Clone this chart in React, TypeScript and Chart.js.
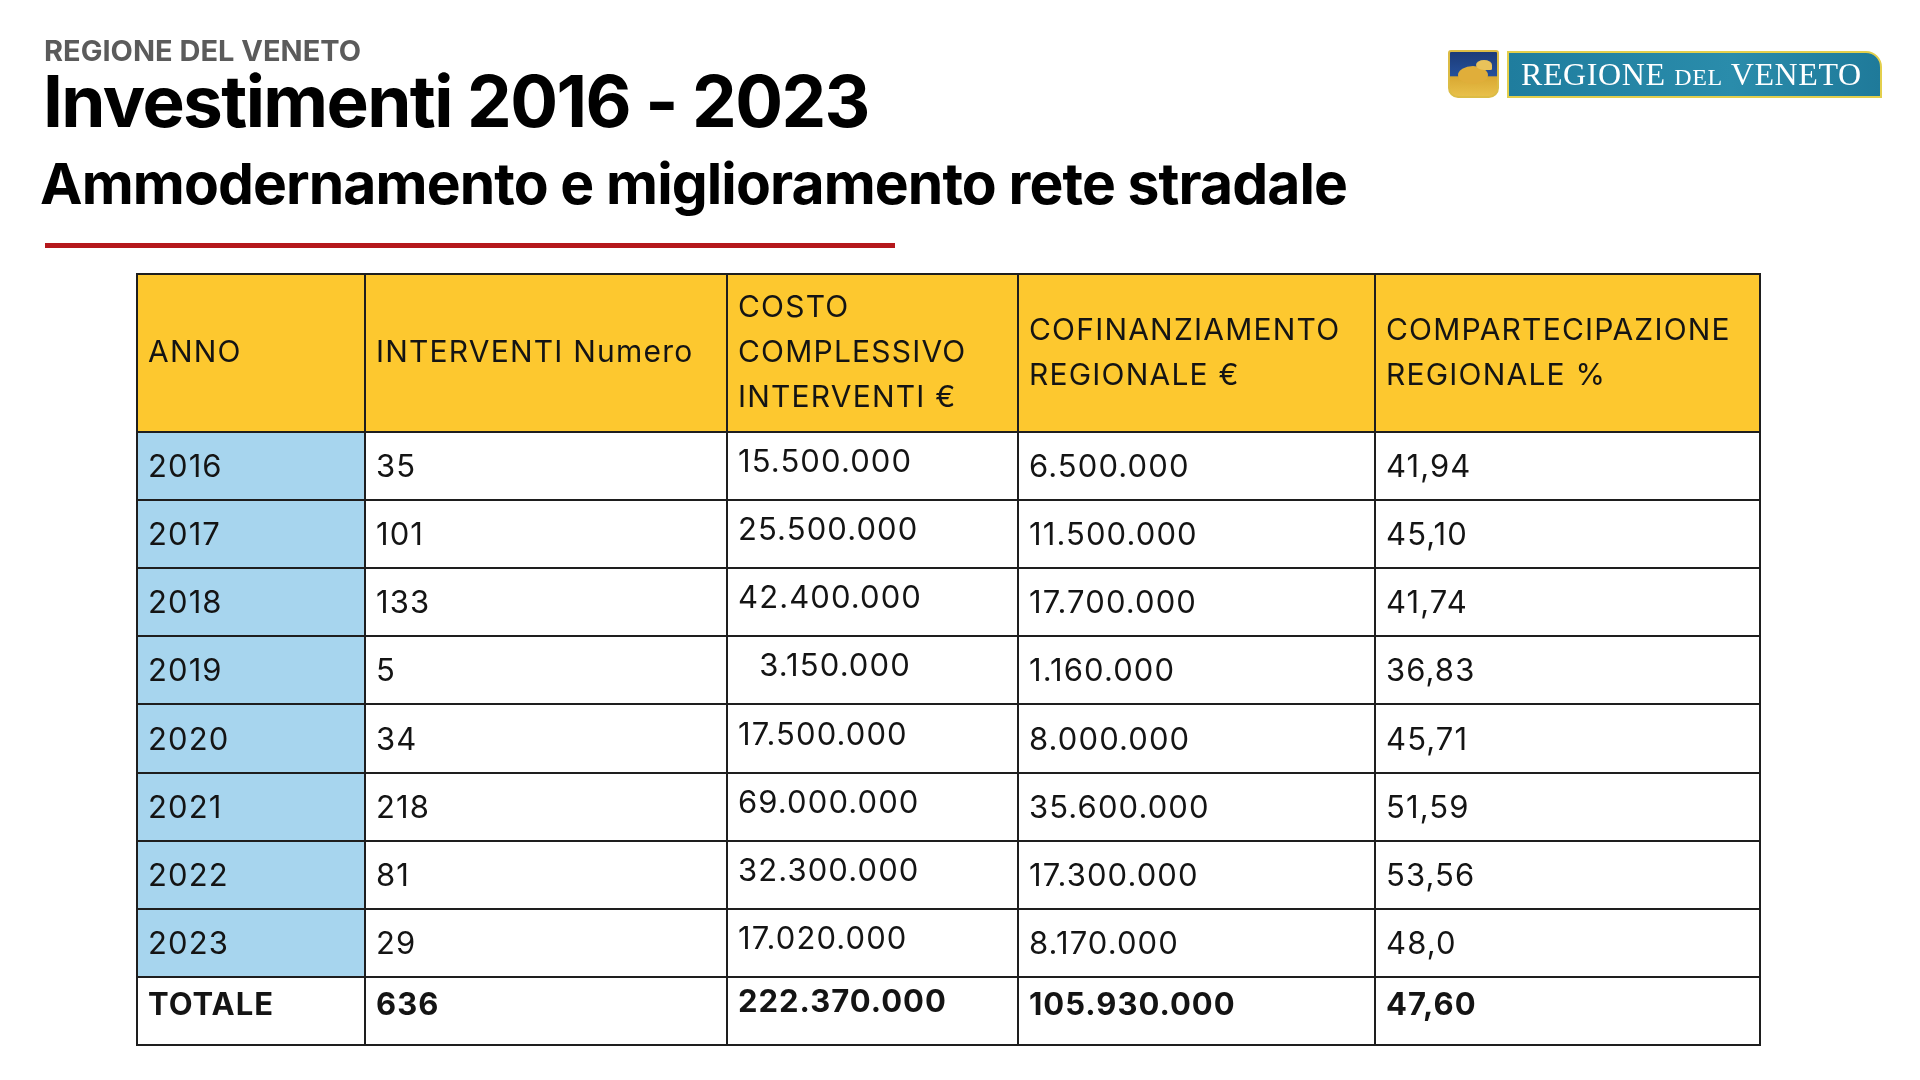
import React, { useEffect, useRef } from "react";
import { Chart, registerables } from "chart.js";

Chart.register(...registerables);

// ---------- DATA ----------
const HEADERS: string[][] = [
  ["ANNO"],
  ["INTERVENTI Numero"],
  ["COSTO", "COMPLESSIVO", "INTERVENTI €"],
  ["COFINANZIAMENTO", "REGIONALE €"],
  ["COMPARTECIPAZIONE", "REGIONALE %"],
];
const YEARS = ["2016", "2017", "2018", "2019", "2020", "2021", "2022", "2023"];
const INTERVENTI = [35, 101, 133, 5, 34, 218, 81, 29];
const COSTO = [15500000, 25500000, 42400000, 3150000, 17500000, 69000000, 32300000, 17020000];
const COFINANZIAMENTO = [6500000, 11500000, 17700000, 1160000, 8000000, 35600000, 17300000, 8170000];
const COMPARTECIPAZIONE = ["41,94", "45,10", "41,74", "36,83", "45,71", "51,59", "53,56", "48,0"];
const TOTAL_LABEL = "TOTALE";
const TOTAL_INTERVENTI = 636;
const TOTAL_COSTO = 222370000;
const TOTAL_COFINANZIAMENTO = 105930000;
const TOTAL_COMPARTECIPAZIONE = "47,60";

// ---------- LAYOUT ----------
const COL_EDGES = [0, 228, 590, 881, 1238, 1623]; // x-scale units
const HEADER_UNITS = 2.32; // header row height in row units
const N_BODY = YEARS.length + 1;
const Y_MAX = HEADER_UNITS + N_BODY;

const FONT = "Inter, 'Open Sans', sans-serif";
const YELLOW = "#fdc82f";
const BLUE = "#a7d5ee";
const LINE = "#1e1e1e";

const fmt = (n: number) => String(n).replace(/\B(?=(\d{3})+(?!\d))/g, ".");

function rowBounds(i: number): [number, number] {
  if (i === 0) return [0, HEADER_UNITS];
  const t = HEADER_UNITS + (i - 1);
  return [t, t + 1];
}

function buildRows(): { cells: string[]; bold: boolean }[] {
  const rows: { cells: string[]; bold: boolean }[] = [];
  YEARS.forEach((yr, i) => {
    rows.push({
      cells: [
        yr,
        String(INTERVENTI[i]),
        fmt(COSTO[i]).padStart(10, "\u2007"),
        fmt(COFINANZIAMENTO[i]),
        COMPARTECIPAZIONE[i],
      ],
      bold: false,
    });
  });
  rows.push({
    cells: [
      TOTAL_LABEL,
      String(TOTAL_INTERVENTI),
      fmt(TOTAL_COSTO),
      fmt(TOTAL_COFINANZIAMENTO),
      TOTAL_COMPARTECIPAZIONE,
    ],
    bold: true,
  });
  return rows;
}

const tablePlugin = {
  id: "tableCells",
  beforeDatasetsDraw(chart: any) {
    const { ctx } = chart;
    const xs = chart.scales.x;
    const ys = chart.scales.y;
    const px = (v: number) => Math.round(xs.getPixelForValue(v));
    const py = (v: number) => Math.round(ys.getPixelForValue(v));
    const rows = buildRows();
    const nCols = COL_EDGES.length - 1;

    ctx.save();
    // fills
    for (let r = 0; r <= N_BODY; r++) {
      const [t, b] = rowBounds(r);
      for (let c = 0; c < nCols; c++) {
        let fill = "#ffffff";
        if (r === 0) fill = YELLOW;
        else if (c === 0 && r <= YEARS.length) fill = BLUE;
        ctx.fillStyle = fill;
        ctx.fillRect(px(COL_EDGES[c]), py(t), px(COL_EDGES[c + 1]) - px(COL_EDGES[c]), py(b) - py(t));
      }
    }
    // grid lines
    ctx.strokeStyle = LINE;
    ctx.lineWidth = 2;
    const top = py(0);
    const bottom = py(Y_MAX);
    const left = px(COL_EDGES[0]);
    const right = px(COL_EDGES[nCols]);
    COL_EDGES.forEach((e) => {
      ctx.beginPath();
      ctx.moveTo(px(e), top - 1);
      ctx.lineTo(px(e), bottom + 1);
      ctx.stroke();
    });
    for (let r = 0; r <= N_BODY; r++) {
      const [t] = rowBounds(r);
      ctx.beginPath();
      ctx.moveTo(left, py(t));
      ctx.lineTo(right, py(t));
      ctx.stroke();
    }
    ctx.beginPath();
    ctx.moveTo(left, bottom);
    ctx.lineTo(right, bottom);
    ctx.stroke();

    // text
    ctx.fillStyle = "#141414";
    ctx.textAlign = "left";
    ctx.textBaseline = "alphabetic";
    const padX = 11;
    // header
    ctx.font = `400 30px ${FONT}`;
    (ctx as any).letterSpacing = "1.2px";
    const [ht, hb] = rowBounds(0);
    const hMid = (py(ht) + py(hb)) / 2 - 2;
    HEADERS.forEach((lines, c) => {
      const n = lines.length;
      lines.forEach((ln, k) => {
        const cy = hMid + (k - (n - 1) / 2) * 45;
        ctx.fillText(ln, px(COL_EDGES[c]) + padX, cy + 11);
      });
    });
    // body
    rows.forEach((row, i) => {
      const [t, b] = rowBounds(i + 1);
      const mid = (py(t) + py(b)) / 2;
      ctx.font = row.bold ? `700 31px ${FONT}` : `400 31px ${FONT}`;
      (ctx as any).letterSpacing = row.bold ? "1px" : "1.1px";
      row.cells.forEach((txt, c) => {
        let dy = 0;
        if (row.bold) dy = c === 2 ? -10 : -7;
        else if (c === 2) dy = -5;
        ctx.fillText(txt, px(COL_EDGES[c]) + padX, mid + 11 + dy);
      });
    });
    (ctx as any).letterSpacing = "0px";
    ctx.restore();
  },
};

const textStyle = (
  left: number,
  top: number,
  size: number,
  weight: number,
  color: string,
  extra: React.CSSProperties = {}
): React.CSSProperties => ({
  position: "absolute",
  left,
  top,
  fontFamily: FONT,
  fontSize: size,
  fontWeight: weight,
  color,
  lineHeight: 1,
  whiteSpace: "nowrap",
  margin: 0,
  ...extra,
});

export default function App() {
  const canvasRef = useRef<HTMLCanvasElement | null>(null);

  useEffect(() => {
    if (!canvasRef.current) return;
    const chart = new Chart(canvasRef.current, {
      type: "scatter",
      data: { datasets: [] },
      options: {
        responsive: false,
        animation: false,
        devicePixelRatio: 1,
        layout: { padding: { left: 137, top: 274, right: 160, bottom: 35 } },
        scales: {
          x: { type: "linear", min: COL_EDGES[0], max: COL_EDGES[COL_EDGES.length - 1], display: false },
          y: { type: "linear", min: 0, max: Y_MAX, reverse: true, display: false },
        },
        plugins: { legend: { display: false }, tooltip: { enabled: false } },
      },
      plugins: [tablePlugin],
    });
    return () => chart.destroy();
  }, []);

  return (
    <div style={{ position: "absolute", left: 0, top: 0, width: 1920, height: 1080, background: "#ffffff", overflow: "hidden" }}>
      <canvas ref={canvasRef} width={1920} height={1080} style={{ position: "absolute", left: 0, top: 0 }} />
      <div style={textStyle(44, 61 - 0.864 * 29, 29, 700, "#5b5b5b", { letterSpacing: 0 })}>REGIONE DEL VENETO</div>
      <div style={textStyle(43, 127 - 0.864 * 71, 71, 700, "#000000", { letterSpacing: -1.6 })}>Investimenti 2016 - 2023</div>
      <div style={textStyle(40, 204 - 0.864 * 57, 57, 700, "#000000", { letterSpacing: -0.9 })}>Ammodernamento e miglioramento rete stradale</div>
      <div style={{ position: "absolute", left: 45, top: 243, width: 850, height: 5, background: "#b5181c" }} />
      {/* logo */}
      <div style={{ position: "absolute", left: 1448, top: 50, width: 51, height: 48, boxSizing: "border-box", border: "2px solid #dcbc45", borderRadius: "3px 3px 10px 10px", background: "linear-gradient(#1c3b78 0%, #25509a 55%, #d9a832 56%, #e8c04a 100%)", overflow: "hidden" }}>
        <div style={{ position: "absolute", left: 8, top: 14, width: 30, height: 18, borderRadius: "50%", background: "#e0ae3a" }} />
        <div style={{ position: "absolute", left: 26, top: 8, width: 16, height: 10, borderRadius: "50% 50% 10% 50%", background: "#e9c25a" }} />
      </div>
      <div style={{ position: "absolute", left: 1507, top: 51, width: 375, height: 47, boxSizing: "border-box", border: "2px solid #e3cf4c", borderTopRightRadius: 16, background: "linear-gradient(90deg, #1f7d9e, #2a8cab 60%, #1f7a9a)" }}>
        <div style={{ position: "absolute", left: 12, top: 34 - 0.891 * 32, fontFamily: "'Liberation Serif', 'DejaVu Serif', serif", fontSize: 32, lineHeight: 1, color: "#ffffff", whiteSpace: "nowrap", letterSpacing: 0.6 }}>
          REGIONE <span style={{ fontSize: 24 }}>DEL</span> VENETO
        </div>
      </div>
    </div>
  );
}
